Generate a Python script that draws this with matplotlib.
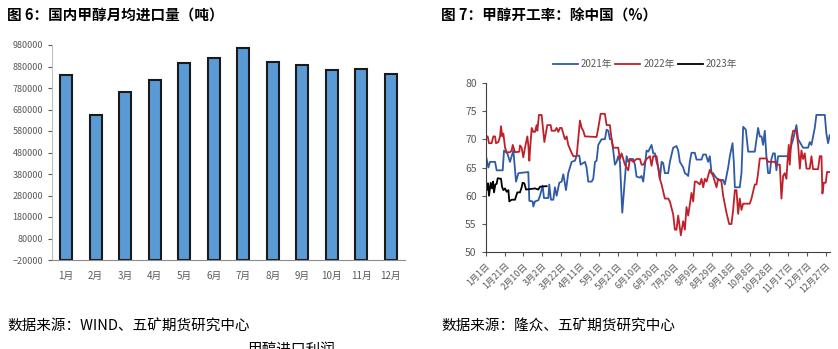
import matplotlib
matplotlib.use("Agg")
import matplotlib.pyplot as plt
import numpy as np

plt.rcParams['font.family'] = ['Noto Sans CJK SC', 'DejaVu Sans']

# 图6 月均进口量
months = ["1月", "2月", "3月", "4月", "5月", "6月", "7月", "8月", "9月", "10月", "11月", "12月"]
imports = [842000, 656000, 761000, 817000, 895000, 920000, 964000, 903000, 887000, 864000, 867000, 845000]

# 图7 开工率 (day of year, value)
days_2021 = [0, 2.8, 4.6, 9.9, 11.6, 18, 19.4, 22.9, 25.7, 29.3, 32.1, 34.6, 45.1, 46.2, 49.7, 50.4, 52.2,
             55.7, 57.5, 60.3, 61.7, 66.3, 67.3, 69.1, 71.6, 73.3, 75.1, 77.9, 80.4, 82.2, 85.0, 87.4, 91.0,
             94.5, 96.3, 99.1, 100.5, 103.3, 105.1, 106.8, 108.6, 112.1, 113.9, 115.7, 117.4, 119.2, 120.9,
             122.7, 126.2, 128.0, 129.8, 131.5, 133.3, 135.0, 136.8, 138.6, 140.3, 142.1, 144.6, 147.4,
             149.2, 150.9, 152.7, 156.2, 158.0, 159.7, 163.3, 165.0, 166.8, 170.3, 172.1, 175.6, 177.4,
             179.1, 180.9, 182.7, 184.4, 186.2, 187.9, 189.7, 193.2, 195.0, 198.5, 202.0, 203.8, 205.6,
             209.1, 210.9, 212.6, 214.4, 216.1, 217.9, 221.4, 223.2, 228.5, 230.3, 233.1, 235.5, 237.3,
             239.1, 240.8, 242.6, 246.1, 251.4, 253.2, 256.7, 258.5, 261.3, 262.7, 263.8, 269.0, 270.8,
             272.6, 275.4, 277.9, 284.9, 286.7, 288.4, 290.2, 292.0, 293.7, 295.5, 297.2, 299.0, 300.8,
             302.5, 304.3, 306.1, 307.8, 309.6, 320.2, 321.9, 325.5, 329.0, 330.8, 334.3, 336.0, 341.3,
             343.1, 344.9, 348.4, 350.1, 359.0, 360.7, 362.5, 364.2]
rate_2021 = [67.3, 65.0, 66.0, 66.0, 64.5, 64.5, 68.0, 67.5, 66.0, 68.0, 62.5, 64.0, 64.2, 59.1, 59.0, 58.1, 59.0,
             59.2, 60.0, 61.8, 59.6, 59.6, 62.0, 59.3, 59.3, 61.5, 60.0, 62.3, 62.5, 63.8, 61.0, 64.0, 66.0,
             66.2, 67.1, 67.1, 65.5, 65.8, 66.0, 65.0, 62.5, 62.5, 63.0, 66.0, 66.2, 69.0, 69.5,
             70.0, 70.0, 71.7, 71.5, 70.0, 70.0, 68.0, 65.5, 66.0, 67.0, 66.0, 57.0, 63.0,
             67.0, 66.0, 66.5, 66.5, 65.5, 63.4, 63.2, 63.5, 62.5, 68.0, 67.8, 69.0, 67.5,
             67.5, 66.0, 65.0, 63.0, 66.0, 65.8, 64.0, 64.0, 66.0, 68.5, 68.8, 68.0, 66.0,
             65.0, 64.0, 63.8, 63.5, 66.0, 67.6, 67.6, 66.4, 66.4, 67.3, 67.3, 66.0, 67.0,
             64.0, 64.0, 63.5, 62.8, 62.8, 62.0, 65.0, 67.0, 69.3, 66.0, 61.5, 61.5, 64.0,
             72.2, 71.7, 67.8, 67.8, 70.0, 72.0, 70.5, 70.5, 69.0, 71.5, 67.0, 64.0, 64.0,
             66.5, 67.5, 67.5, 64.5, 67.0, 67.0, 68.0, 70.0, 72.5, 70.0, 69.0, 68.5, 68.5,
             69.5, 69.0, 72.0, 74.3, 74.3, 71.0, 69.3, 70.7]

days_2022 = [0, 2.1, 3.5, 6.3, 8.1, 9.9, 10.9, 13.4, 15.2, 16.2, 17.6, 18.7, 20.5, 22.2, 25.7, 27.5, 28.6,
             31.0, 35.6, 36.3, 38.1, 39.8, 41.6, 44.1, 45.1, 46.2, 46.9, 48.7, 50.4, 52.2, 53.9, 54.7, 56.4,
             59.2, 60.3, 62.1, 65.2, 68.8, 69.8, 73.3, 75.1, 76.9, 78.6, 80.4, 82.2, 83.9, 85.7, 87.4, 89.9,
             92.7, 96.3, 98.0, 99.8, 101.6, 103.3, 105.1, 117.4, 119.2, 121.7, 126.2, 128.0, 131.5, 133.3,
             135.0, 140.3, 142.1, 143.9, 147.4, 150.9, 152.7, 156.2, 159.7, 163.3, 165.0, 166.8, 170.3,
             173.8, 175.6, 177.4, 180.9, 182.7, 184.4, 186.2, 189.7, 193.2, 195.0, 198.5, 200.3, 202.0,
             203.8, 206.6, 209.1, 210.9, 212.6, 214.4, 217.9, 219.7, 221.4, 223.2, 226.7, 228.5, 230.3,
             232.0, 233.8, 237.3, 240.8, 244.4, 246.1, 249.6, 251.4, 254.9, 257.8, 260.2, 262.0, 263.8,
             265.5, 267.3, 269.0, 270.8, 272.6, 279.6, 281.4, 284.9, 286.7, 288.4, 290.2, 297.2, 299.0,
             306.1, 307.8, 311.4, 313.1, 314.9, 316.6, 318.4, 319.5, 320.9, 321.9, 323.7, 325.5, 329.0,
             330.8, 332.6, 334.3, 336.0, 337.8, 339.6, 343.1, 344.9, 346.6, 351.9, 353.7, 355.5, 356.5,
             357.9, 360.0, 361.4, 364.2]
rate_2022 = [70.5, 70.5, 69.3, 69.3, 70.5, 70.5, 69.3, 69.5, 70.5, 72.3, 70.5, 71.0, 68.5, 67.7, 67.7, 68.0, 69.0,
             67.7, 67.8, 68.9, 68.5, 66.8, 68.5, 70.5, 69.0, 66.2, 68.0, 72.0, 71.3, 71.3, 72.5, 71.5, 74.3,
             74.3, 72.5, 69.5, 72.5, 72.5, 71.5, 71.5, 72.0, 71.3, 72.0, 72.0, 71.0, 70.0, 70.5, 69.0, 68.0,
             67.0, 67.0, 70.0, 73.3, 72.0, 71.5, 70.5, 70.4, 72.0, 74.5, 74.5, 72.5, 72.5, 70.0,
             68.5, 68.5, 66.5, 67.5, 65.5, 64.5, 66.5, 66.0, 66.5, 66.5, 65.5, 65.5, 66.5,
             67.0, 65.3, 67.0, 67.0, 65.0, 63.0, 62.0, 59.5, 59.5, 59.0, 56.7, 54.0, 54.0,
             56.5, 53.0, 55.5, 54.0, 58.0, 56.5, 60.5, 59.0, 62.5, 62.5, 62.0, 63.0, 61.5,
             63.0, 62.5, 64.6, 63.5, 61.5, 63.0, 62.5, 60.0, 57.0, 55.0, 55.0, 57.5, 61.0,
             61.0, 56.8, 59.5, 57.5, 58.6, 58.6, 59.5, 62.0, 62.0, 64.0, 66.6, 66.6, 66.0,
             66.0, 65.5, 65.5, 59.5, 63.5, 64.0, 63.0, 66.0, 69.0, 65.5, 70.0, 71.5, 71.5,
             69.0, 64.8, 68.0, 66.5, 67.5, 64.8, 64.8, 67.0, 64.7, 64.7, 67.0, 67.0, 60.4,
             62.3, 62.3, 64.2, 64.2]

days_2023 = [0, 1.1, 2.5, 3.5, 5.3, 6.7, 7.8, 8.8, 10.2, 11.6, 12.7, 16.2, 17.3, 18.7, 20.5, 22.2, 24.0,
             25.0, 27.5, 31.0, 33.5, 36.3, 38.1, 39.1, 40.9, 42.7, 52.2, 55.7, 57.5, 64.5]
rate_2023 = [63.7, 61.0, 62.2, 60.0, 62.3, 61.3, 62.5, 60.6, 62.0, 62.1, 63.1, 63.0, 61.6, 61.0, 61.3, 60.7, 61.0,
             59.0, 59.3, 59.3, 60.6, 60.6, 61.5, 62.3, 62.2, 61.1, 61.3, 61.1, 61.6, 61.7]

date_ticks = ["1月1日", "1月21日", "2月10日", "3月2日", "3月22日", "4月11日", "5月1日", "5月21日", "6月10日",
              "6月30日", "7月20日", "8月9日", "8月29日", "9月18日", "10月8日", "10月28日", "11月17日",
              "12月7日", "12月27日"]

grey = "#595959"
fig = plt.figure(figsize=(8.38, 3.49), dpi=100)

# ---- 左图
ax1 = fig.add_axes([52/838, 1-260/349, (405-52)/838, (260-45)/349])
x = np.arange(len(months))
base = -20000
ax1.bar(x, [v - base for v in imports], width=0.4, color="#5B9BD5", edgecolor="#1a1a1a",
        linewidth=1.5, bottom=base)
ax1.set_xlim(-0.48, 11.48)
ax1.set_ylim(-20000, 980000)
ax1.set_yticks(np.arange(-20000, 980001, 100000))
ax1.set_yticklabels([str(v).replace("-", "\u2212") for v in range(-20000, 980001, 100000)])
ax1.set_xticks(x)
ax1.set_xticklabels(months)
ax1.tick_params(axis="y", labelsize=6.5, colors=grey, length=3, width=0.8)
ax1.tick_params(axis="x", labelsize=7, colors=grey, length=0, pad=8)
for s in ["top", "right"]:
    ax1.spines[s].set_visible(False)
ax1.spines["left"].set_color("#bfbfbf")
ax1.spines["bottom"].set_color("#8c8c8c")

# ---- 右图
ax2 = fig.add_axes([485.7/838, 1-252.3/349, (829.5-485.7)/838, (252.3-82.7)/349])
ax2.plot(days_2021, rate_2021, color="#2E5AA8", lw=1.3, label="2021年")
ax2.plot(days_2022, rate_2022, color="#C0202A", lw=1.3, label="2022年")
ax2.plot(days_2023, rate_2023, color="#000000", lw=1.3, label="2023年")
ax2.set_xlim(0, 364)
ax2.set_ylim(50, 80)
ax2.set_yticks(range(50, 81, 5))
ax2.set_xticks(np.arange(0, 361, 20))
ax2.set_xticklabels(date_ticks, rotation=45, ha="right", rotation_mode="anchor")
ax2.tick_params(axis="y", labelsize=7.5, colors=grey, length=3, width=0.8)
ax2.tick_params(axis="x", labelsize=6.5, colors=grey, length=3, width=0.8)
for s in ["top", "right"]:
    ax2.spines[s].set_visible(False)
ax2.spines["left"].set_color("#404040")
ax2.spines["bottom"].set_color("#404040")
leg = ax2.legend(loc="center", bbox_to_anchor=(645/838, 1-64/349), bbox_transform=fig.transFigure,
                 ncol=3, frameon=False, fontsize=7, handlelength=2.6, handletextpad=0.3, columnspacing=0.3)
for t in leg.get_texts():
    t.set_color(grey)

# ---- 文字
fig.text(7/838, 1-16/349, "图 6：国内甲醇月均进口量（吨）", fontsize=10.5, fontweight="bold", va="center")
fig.text(441/838, 1-16/349, "图 7：甲醇开工率：除中国（%）", fontsize=10.5, fontweight="bold", va="center")
fig.text(7/838, 1-327/349, "数据来源：WIND、五矿期货研究中心", fontsize=10.5, va="center")
fig.text(441/838, 1-327/349, "数据来源：隆众、五矿期货研究中心", fontsize=10.5, va="center")
# 下一张图的标题，在原图底边被截掉
fig.text(247/838, 1-343/349, "甲醇进口利润", fontsize=10.5, va="top")

fig.savefig("out.png", dpi=100)
